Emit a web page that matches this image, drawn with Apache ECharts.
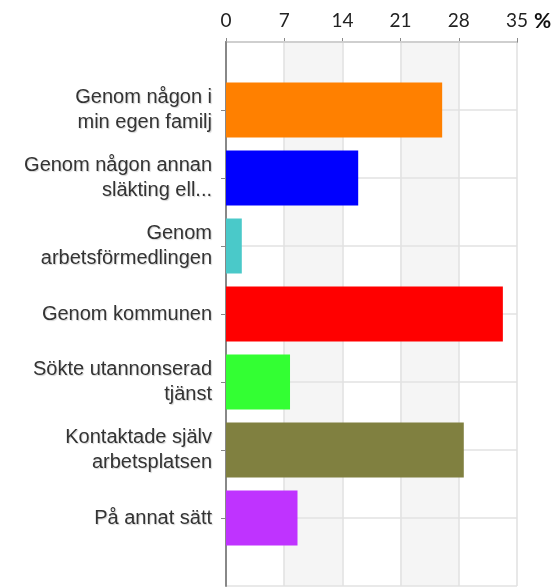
<!DOCTYPE html>
<html lang="sv">
<head>
  <meta charset="UTF-8" />
  <title>Hur fick du jobbet?</title>
  <script src="https://cdn.jsdelivr.net/npm/echarts@6/dist/echarts.min.js"></script>
  <style>
    body { margin: 0; background: #fff; }
    #chart { width: 555px; height: 587px; }
  </style>
</head>
<body>
  <div id="chart"></div>
  <script>
    // answers, top to bottom
    const categories = [
      'Genom någon i\nmin egen familj',
      'Genom någon annan\nsläkting ell...',
      'Genom\narbetsförmedlingen',
      'Genom kommunen',
      'Sökte utannonserad\ntjänst',
      'Kontaktade själv\narbetsplatsen',
      'På annat sätt'
    ];
    const percents = [26.0, 15.9, 1.9, 33.3, 7.7, 28.6, 8.6];
    const barColors = ['#ff8000', '#0000ff', '#4ac9c9', '#ff0000', '#33ff33', '#808040', '#bf33ff'];
    const xTicks = [0, 7, 14, 21, 28, 35];

    // empty slot above and below so the bars sit between the axis ends
    const yData = [''].concat(categories, ['']);
    const barData = ['-'].concat(percents.map((v, i) => ({
      value: v,
      itemStyle: { color: barColors[i] }
    })), ['-']);

    const chart = echarts.init(document.getElementById('chart'));
    chart.setOption({
      animation: false,
      grid: { left: 226, right: 38, top: 42, bottom: 1, containLabel: false },
      xAxis: {
        type: 'value',
        position: 'top',
        min: xTicks[0],
        max: xTicks[xTicks.length - 1],
        interval: xTicks[1] - xTicks[0],
        name: '%',
        nameLocation: 'end',
        nameGap: 10,
        nameTextStyle: {
          fontFamily: 'Lato', fontSize: 21, fontWeight: 'bold', color: '#111',
          verticalAlign: 'bottom', padding: [0, 0, 10, 0]
        },
        axisLine: { show: true, lineStyle: { color: '#999', width: 2 } },
        axisTick: { show: true, length: 4, inside: false, lineStyle: { color: '#888' } },
        axisLabel: { fontFamily: 'Lato', fontSize: 19, color: '#222', margin: 12 },
        splitLine: { show: true, lineStyle: { color: '#e0e0e0', width: 1.5 } },
        splitArea: { show: true, areaStyle: { color: ['#ffffff', '#f5f5f5'] } }
      },
      yAxis: {
        type: 'category',
        inverse: true,
        boundaryGap: false,
        z: 1,
        data: yData,
        axisLine: { show: true, lineStyle: { color: '#888', width: 2 } },
        axisTick: {
          show: true, length: 5, lineStyle: { color: '#888' },
          interval: (i, v) => v !== ''
        },
        axisLabel: {
          fontFamily: 'Liberation Sans', fontSize: 20, lineHeight: 25,
          color: '#333', align: 'right', margin: 14,
          textShadowColor: 'rgba(0,0,0,0.18)', textShadowBlur: 1, textShadowOffsetX: 1, textShadowOffsetY: 1
        },
        splitLine: { show: true, lineStyle: { color: '#e2e2e2', width: 1.5 } }
      },
      series: [{
        type: 'bar',
        z: 3,
        data: barData,
        barWidth: 55
      }]
    });
  </script>
</body>
</html>
